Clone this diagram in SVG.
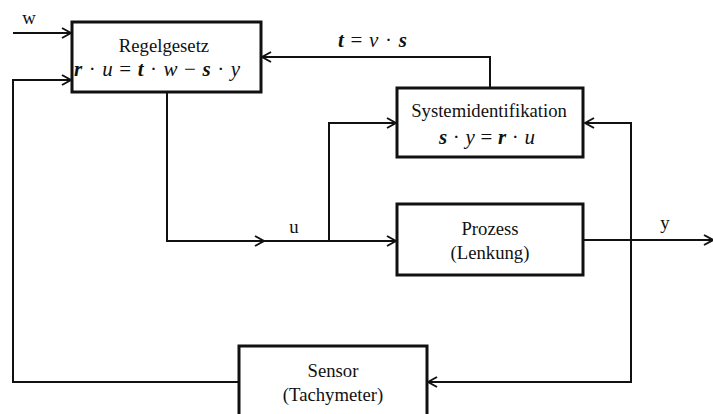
<svg xmlns="http://www.w3.org/2000/svg" width="713" height="414" viewBox="0 0 713 414">
<style>
.box{fill:#fff;stroke:#111;stroke-width:3}
.ln{fill:none;stroke:#111;stroke-width:2}
text{font-family:"Liberation Serif","Times New Roman",serif;font-size:18.7px;fill:#111}
.f{font-size:21px}
.c{text-anchor:middle}
.i{font-style:italic}
.bi{font-style:italic;font-weight:bold}
</style>
<defs>
<marker id="ah" viewBox="0 0 12 12" refX="11" refY="6" markerWidth="12" markerHeight="12" markerUnits="userSpaceOnUse" orient="auto">
<path d="M2,1 L11,6 L2,11" fill="none" stroke="#111" stroke-width="2"/>
</marker>
</defs>
<rect width="713" height="414" fill="#fff"/>
<g id="connectors">
<path class="ln" d="M13,33 H71" marker-end="url(#ah)"/>
<path class="ln" d="M167,93 V241 H396" marker-end="url(#ah)"/>
<path class="ln" d="M255,236 L264,241 L255,246"/>
<path class="ln" d="M329,241 V123 H396" marker-end="url(#ah)"/>
<path class="ln" d="M490,88 V57 H262" marker-end="url(#ah)"/>
<path class="ln" d="M584,240 H713" marker-end="url(#ah)"/>
<path class="ln" d="M631,240 V123 H585" marker-end="url(#ah)"/>
<path class="ln" d="M631,240 V382 H428" marker-end="url(#ah)"/>
<path class="ln" d="M239,382 H13 V80 H71" marker-end="url(#ah)"/>
</g>
<g id="labels">
<text x="29" y="24" class="c">w</text>
<text x="294" y="233" class="c">u</text>
<text x="665" y="229" class="c">y</text>
<text x="338" y="47" class="f" textLength="69" lengthAdjust="spacing"><tspan class="bi">t</tspan> = <tspan class="i">v</tspan> · <tspan class="bi">s</tspan></text>
</g>
<g id="regelgesetz">
<rect class="box" x="72" y="22" width="189" height="70"/>
<text x="164" y="52" class="c">Regelgesetz</text>
<text x="74" y="76" class="f" textLength="166" lengthAdjust="spacing"><tspan class="bi">r</tspan> · <tspan class="i">u</tspan> = <tspan class="bi">t</tspan> · <tspan class="i">w</tspan> − <tspan class="bi">s</tspan> · <tspan class="i">y</tspan></text>
</g>
<g id="systemidentifikation">
<rect class="box" x="397" y="88" width="186" height="69"/>
<text x="489" y="117" class="c">Systemidentifikation</text>
<text x="439" y="144" class="f" textLength="96" lengthAdjust="spacing"><tspan class="bi">s</tspan> · <tspan class="i">y</tspan> = <tspan class="bi">r</tspan> · <tspan class="i">u</tspan></text>
</g>
<g id="prozess">
<rect class="box" x="397" y="204" width="186" height="71"/>
<text x="490" y="235" class="c">Prozess</text>
<text x="490" y="259" class="c">(Lenkung)</text>
</g>
<g id="sensor">
<rect class="box" x="239" y="346" width="188" height="80"/>
<text x="333" y="377" class="c">Sensor</text>
<text x="333" y="401" class="c">(Tachymeter)</text>
</g>
</svg>
